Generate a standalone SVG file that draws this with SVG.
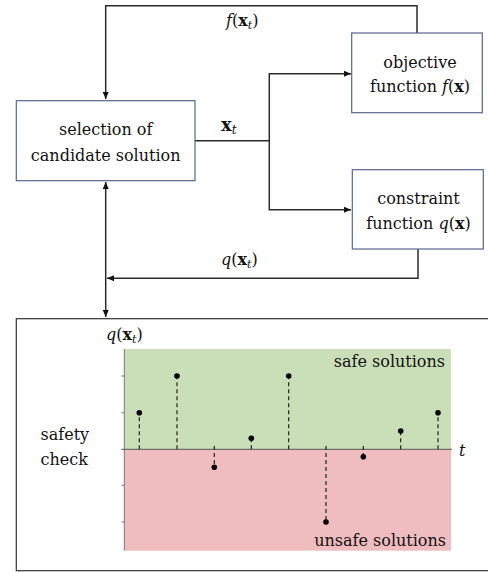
<svg xmlns="http://www.w3.org/2000/svg" width="488" height="572" viewBox="0 0 488 572">
<style>
.box{fill:#fff;stroke:#56668a;stroke-width:1.2}
.ln{fill:none;stroke:#2a2a2a;stroke-width:1.5}
.it{font-style:italic}
.b{font-weight:bold}
.stem{stroke:#222;stroke-width:1.2;stroke-dasharray:4 3}
.tick{stroke:#777;stroke-width:1}
</style>
<defs>
<marker id="ah" markerUnits="userSpaceOnUse" markerWidth="8" markerHeight="8" refX="7" refY="4" orient="auto-start-reverse">
<path d="M0,1 L7,4 L0,7 z" fill="#111"/>
</marker>
</defs>
<g font-family="DejaVu Serif, serif" fill="#111">
<g id="connectors">
<path class="ln" d="M417,33 V5.7 H105.7 V99" marker-end="url(#ah)"/>
<path class="ln" d="M195,140.7 H269.3"/>
<path class="ln" d="M351,73.7 H269.3 V209.7 H351" marker-start="url(#ah)" marker-end="url(#ah)"/>
<path class="ln" d="M418,249 V278.3 H107" marker-end="url(#ah)"/>
<path class="ln" d="M105.7,182 V317" marker-start="url(#ah)" marker-end="url(#ah)"/>
</g>
<g id="labels" font-size="16">
<text x="226" y="26"><tspan class="it">f</tspan>(<tspan class="b">x</tspan><tspan class="it" font-size="11" dy="3">t</tspan><tspan dy="-3">)</tspan></text>
<text x="221" y="131"><tspan class="b" font-size="18">x</tspan><tspan class="it" font-size="12" dy="3">t</tspan></text>
<text x="221" y="265"><tspan class="it">q</tspan>(<tspan class="b">x</tspan><tspan class="it" font-size="11" dy="3">t</tspan><tspan dy="-3">)</tspan></text>
</g>
<g id="selection" font-size="16">
<rect class="box" x="16.3" y="100.7" width="178.7" height="80"/>
<text x="105.7" y="135" text-anchor="middle">selection of</text>
<text x="105.7" y="160.5" text-anchor="middle">candidate solution</text>
</g>
<g id="objective" font-size="16">
<rect class="box" x="351.7" y="33" width="130.6" height="79.7"/>
<text x="420" y="67.5" text-anchor="middle">objective</text>
<text x="420" y="92" text-anchor="middle">function <tspan class="it">f</tspan>(<tspan class="b">x</tspan>)</text>
</g>
<g id="constraint" font-size="16">
<rect class="box" x="352.3" y="169.7" width="131" height="79.3"/>
<text x="418.5" y="204" text-anchor="middle">constraint</text>
<text x="418.5" y="228.5" text-anchor="middle">function <tspan class="it">q</tspan>(<tspan class="b">x</tspan>)</text>
</g>
<g id="safety" font-size="16">
<rect x="16.3" y="318.7" width="480" height="252" fill="#fff" stroke="#333" stroke-width="1.2"/>
<text x="40.5" y="440">safety</text>
<text x="40.5" y="465">check</text>
<rect x="124.3" y="349" width="326.7" height="100.3" fill="#cadfb8"/>
<rect x="124.3" y="449.3" width="326.7" height="101.4" fill="#efbcbf"/>
<line x1="124.3" y1="349" x2="124.3" y2="550.7" stroke="#777" stroke-width="1"/>
<line x1="121.5" y1="449.3" x2="452" y2="449.3" stroke="#555" stroke-width="1"/>
<line class="tick" x1="121.5" y1="376" x2="124.3" y2="376"/>
<line class="tick" x1="121.5" y1="412.7" x2="124.3" y2="412.7"/>
<line class="tick" x1="121.5" y1="485.3" x2="124.3" y2="485.3"/>
<line class="tick" x1="121.5" y1="522" x2="124.3" y2="522"/>
<g>
<line class="stem" x1="139.3" y1="449.3" x2="139.3" y2="412.7"/>
<line class="stem" x1="177" y1="449.3" x2="177" y2="376"/>
<line class="stem" x1="214.3" y1="446" x2="214.3" y2="467.3"/>
<line class="stem" x1="251.3" y1="449.3" x2="251.3" y2="438.3"/>
<line class="stem" x1="288.7" y1="449.3" x2="288.7" y2="376"/>
<line class="stem" x1="326" y1="446" x2="326" y2="522"/>
<line class="stem" x1="363.3" y1="446" x2="363.3" y2="456.7"/>
<line class="stem" x1="400.7" y1="449.3" x2="400.7" y2="431"/>
<line class="stem" x1="438" y1="449.3" x2="438" y2="412.7"/>
</g>
<g fill="#000">
<circle cx="139.3" cy="412.7" r="2.8"/>
<circle cx="177" cy="376" r="2.8"/>
<circle cx="214.3" cy="467.3" r="2.8"/>
<circle cx="251.3" cy="438.3" r="2.8"/>
<circle cx="288.7" cy="376" r="2.8"/>
<circle cx="326" cy="522" r="2.8"/>
<circle cx="363.3" cy="456.7" r="2.8"/>
<circle cx="400.7" cy="431" r="2.8"/>
<circle cx="438" cy="412.7" r="2.8"/>
</g>
<text x="106" y="340"><tspan class="it">q</tspan>(<tspan class="b">x</tspan><tspan class="it" font-size="11" dy="3">t</tspan><tspan dy="-3">)</tspan></text>
<text x="445" y="366.5" text-anchor="end">safe solutions</text>
<text x="446" y="546" text-anchor="end">unsafe solutions</text>
<text class="it" x="459" y="456">t</text>
</g>
</g>
</svg>
